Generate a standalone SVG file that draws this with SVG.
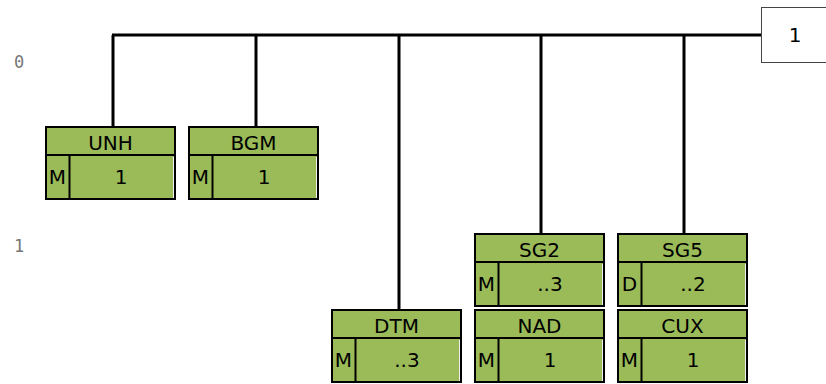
<svg xmlns="http://www.w3.org/2000/svg" width="826" height="384" viewBox="0 0 826 384">
<style>
.bx{fill:#9BBB59;stroke:#000;stroke-width:2}
.ln{stroke:#000;stroke-width:2;fill:none}
.hl{stroke:#f0f0f0;stroke-width:1}
.t{font-family:"DejaVu Sans",Verdana,sans-serif;font-size:20px;fill:#000;text-anchor:middle;dominant-baseline:central}
.lv{font-family:"DejaVu Sans Mono",monospace;font-size:17px;fill:#777;text-anchor:middle;dominant-baseline:central}
.con{stroke:#000;stroke-width:3;fill:none}
</style>
<rect width="826" height="384" fill="#fff"/>
<text class="lv" x="19" y="62">0</text>
<text class="lv" x="19" y="246">1</text>
<g id="connectors">
<path class="con" d="M112 35 H762"/>
<path class="con" d="M113 35 V126"/>
<path class="con" d="M256 35 V126"/>
<path class="con" d="M399 35 V309"/>
<path class="con" d="M541 35 V234"/>
<path class="con" d="M684 35 V234"/>
</g>
<g id="rep">
<rect x="761.5" y="7.5" width="70" height="55" fill="#fff" stroke="#444" stroke-width="1"/>
<text class="t" x="795" y="35">1</text>
</g>
<g id="UNH">
<rect class="bx" x="46" y="127" width="129" height="72"/>
<line class="ln" x1="46" y1="155" x2="175" y2="155"/>
<line class="ln" x1="69.5" y1="155" x2="69.5" y2="199"/>
<line class="hl" x1="173.5" y1="157" x2="173.5" y2="198"/>
<text class="t" x="110.5" y="142.5">UNH</text>
<text class="t" x="57.5" y="177">M</text>
<text class="t" x="121" y="177">1</text>
</g>
<g id="BGM">
<rect class="bx" x="189" y="127" width="129" height="72"/>
<line class="ln" x1="189" y1="155" x2="318" y2="155"/>
<line class="ln" x1="212.5" y1="155" x2="212.5" y2="199"/>
<line class="hl" x1="316.5" y1="157" x2="316.5" y2="198"/>
<text class="t" x="253.5" y="142.5">BGM</text>
<text class="t" x="200.5" y="177">M</text>
<text class="t" x="264" y="177">1</text>
</g>
<g id="DTM">
<rect class="bx" x="332" y="310" width="129" height="72"/>
<line class="ln" x1="332" y1="338" x2="461" y2="338"/>
<line class="ln" x1="355.5" y1="338" x2="355.5" y2="382"/>
<line class="hl" x1="459.5" y1="340" x2="459.5" y2="381"/>
<text class="t" x="396.5" y="325.5">DTM</text>
<text class="t" x="343.5" y="360">M</text>
<text class="t" x="407" y="360">..3</text>
</g>
<g id="SG2">
<rect class="bx" x="475" y="234" width="129" height="72"/>
<line class="ln" x1="475" y1="262" x2="604" y2="262"/>
<line class="ln" x1="498.5" y1="262" x2="498.5" y2="306"/>
<line class="hl" x1="602.5" y1="264" x2="602.5" y2="305"/>
<text class="t" x="539.5" y="249.5">SG2</text>
<text class="t" x="486.5" y="284">M</text>
<text class="t" x="550" y="284">..3</text>
</g>
<g id="NAD">
<rect class="bx" x="475" y="310" width="129" height="72"/>
<line class="ln" x1="475" y1="338" x2="604" y2="338"/>
<line class="ln" x1="498.5" y1="338" x2="498.5" y2="382"/>
<line class="hl" x1="602.5" y1="340" x2="602.5" y2="381"/>
<text class="t" x="539.5" y="325.5">NAD</text>
<text class="t" x="486.5" y="360">M</text>
<text class="t" x="550" y="360">1</text>
</g>
<g id="SG5">
<rect class="bx" x="618" y="234" width="129" height="72"/>
<line class="ln" x1="618" y1="262" x2="747" y2="262"/>
<line class="ln" x1="641.5" y1="262" x2="641.5" y2="306"/>
<line class="hl" x1="745.5" y1="264" x2="745.5" y2="305"/>
<text class="t" x="682.5" y="249.5">SG5</text>
<text class="t" x="629.5" y="284">D</text>
<text class="t" x="693" y="284">..2</text>
</g>
<g id="CUX">
<rect class="bx" x="618" y="310" width="129" height="72"/>
<line class="ln" x1="618" y1="338" x2="747" y2="338"/>
<line class="ln" x1="641.5" y1="338" x2="641.5" y2="382"/>
<line class="hl" x1="745.5" y1="340" x2="745.5" y2="381"/>
<text class="t" x="682.5" y="325.5">CUX</text>
<text class="t" x="629.5" y="360">M</text>
<text class="t" x="693" y="360">1</text>
</g>
</svg>
